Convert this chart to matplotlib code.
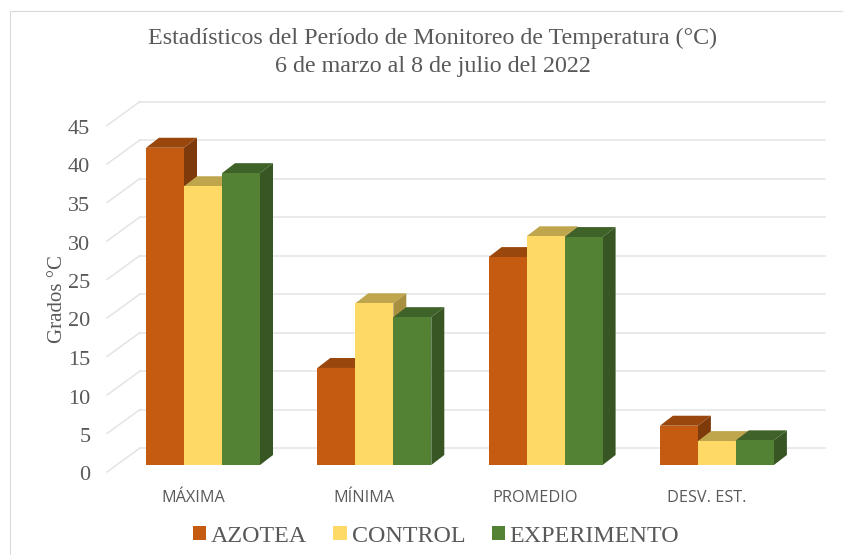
#!/usr/bin/env python
import numpy as np
import matplotlib
matplotlib.use('Agg')
import matplotlib.pyplot as plt
from matplotlib.patches import Patch, Rectangle

categories = ['MÁXIMA', 'MÍNIMA', 'PROMEDIO', 'DESV. EST.']
azotea = [41.2, 12.6, 27.0, 5.1]
control = [36.2, 21.0, 29.7, 3.1]
experimento = [37.9, 19.2, 29.6, 3.2]
yticks = list(range(0, 50, 5))

W, H = 843, 555
plt.rcParams['font.family'] = ['Liberation Serif', 'DejaVu Serif']
GRAY = '#595959'

fig = plt.figure(figsize=(W / 100, H / 100), dpi=100)
fig.patch.set_facecolor('white')

# front plane: value 0 sits at y=465px, 7.7 px per degree
left, right, base, top = 107, 825, 465, 465 - 45 * 7.7
ax = fig.add_axes([left / W, 1 - base / H, (right - left) / W, (base - top) / H])
unit = 171.3
ax.set_xlim((left - 203) / unit, (right - 203) / unit)
ax.set_ylim(0, 45)
for s in ax.spines.values():
    s.set_visible(False)
ax.patch.set_alpha(0)

px = 1 / unit
py = 1 / 7.7
back_dx, back_dy = 33 * px, 17 * py
x0 = ax.get_xlim()[0]
x1 = ax.get_xlim()[1]
for v in yticks:
    ax.plot([x0 + back_dx, x1], [v + back_dy] * 2, color='#e4e4e4', lw=1.1, zorder=1, clip_on=False)
    ax.plot([x0, x0 + back_dx], [v - 7 * py, v + back_dy], color='#e4e4e4', lw=1.1, zorder=1, clip_on=False)

series = [
    ('AZOTEA', azotea, '#C55A11', '#9A470D', '#7F3A0B'),
    ('CONTROL', control, '#FFD966', '#BFA54C', '#A89040'),
    ('EXPERIMENTO', experimento, '#548235', '#3F6229', '#375623'),
]
bw = 38 * px
dx, dy = 13 * px, 10 * py
for j, (name, vals, front, topc, side) in enumerate(series):
    pos = np.arange(len(categories)) + (j - 1) * bw
    for p, v in zip(pos, vals):
        l, r = p - bw / 2, p + bw / 2
        ax.fill([l, r, r + dx, l + dx], [v, v, v + dy, v + dy], color=topc, lw=0, zorder=2 + j, clip_on=False)
        ax.fill([r, r + dx, r + dx, r], [0, dy, v + dy, v], color=side, lw=0, zorder=2 + j, clip_on=False)
    ax.bar(pos, vals, bw, color=front, zorder=2 + j, clip_on=False)

ax.set_yticks(yticks)
ax.set_yticklabels([str(v) for v in yticks], fontsize=16, color=GRAY)
ax.tick_params(axis='y', length=0, pad=12)
for lab in ax.get_yticklabels():
    lab.set_verticalalignment('center')
    lab.set_transform(lab.get_transform() + matplotlib.transforms.Affine2D().translate(0, -11))

ax.set_xticks(np.arange(len(categories)) - 10 * px)
ax.set_xticklabels(categories, fontsize=11.7, color=GRAY, family=['Open Sans', 'DejaVu Sans'])
ax.tick_params(axis='x', length=0, pad=18)

fig.text(57 / W, 1 - 299 / H, 'Grados °C', rotation=90, ha='center', va='center', fontsize=15, color=GRAY)
fig.text(432.5 / W, 1 - 38.5 / H, 'Estadísticos del Período de Monitoreo de Temperatura (°C)',
         ha='center', va='center', fontsize=17.3, color=GRAY)
fig.text(432.5 / W, 1 - 66.5 / H, '6 de marzo al 8 de julio del 2022',
         ha='center', va='center', fontsize=17.3, color=GRAY)

handles = [Patch(facecolor=s[2], label=s[0]) for s in series]
fig.legend(handles=handles, loc='center', bbox_to_anchor=(436 / W, 1 - 536 / H), ncol=3, frameon=False,
           fontsize=17.3, labelcolor=GRAY, handlelength=0.55, handleheight=0.55, handletextpad=0.2,
           columnspacing=1.1)

fig.patches.append(Rectangle((10 / W, -0.1), 1.2, 1 - 11 / H + 0.1, transform=fig.transFigure,
                             fill=False, ec='#d9d9d9', lw=0.8))

fig.savefig('out.png', dpi=100)
